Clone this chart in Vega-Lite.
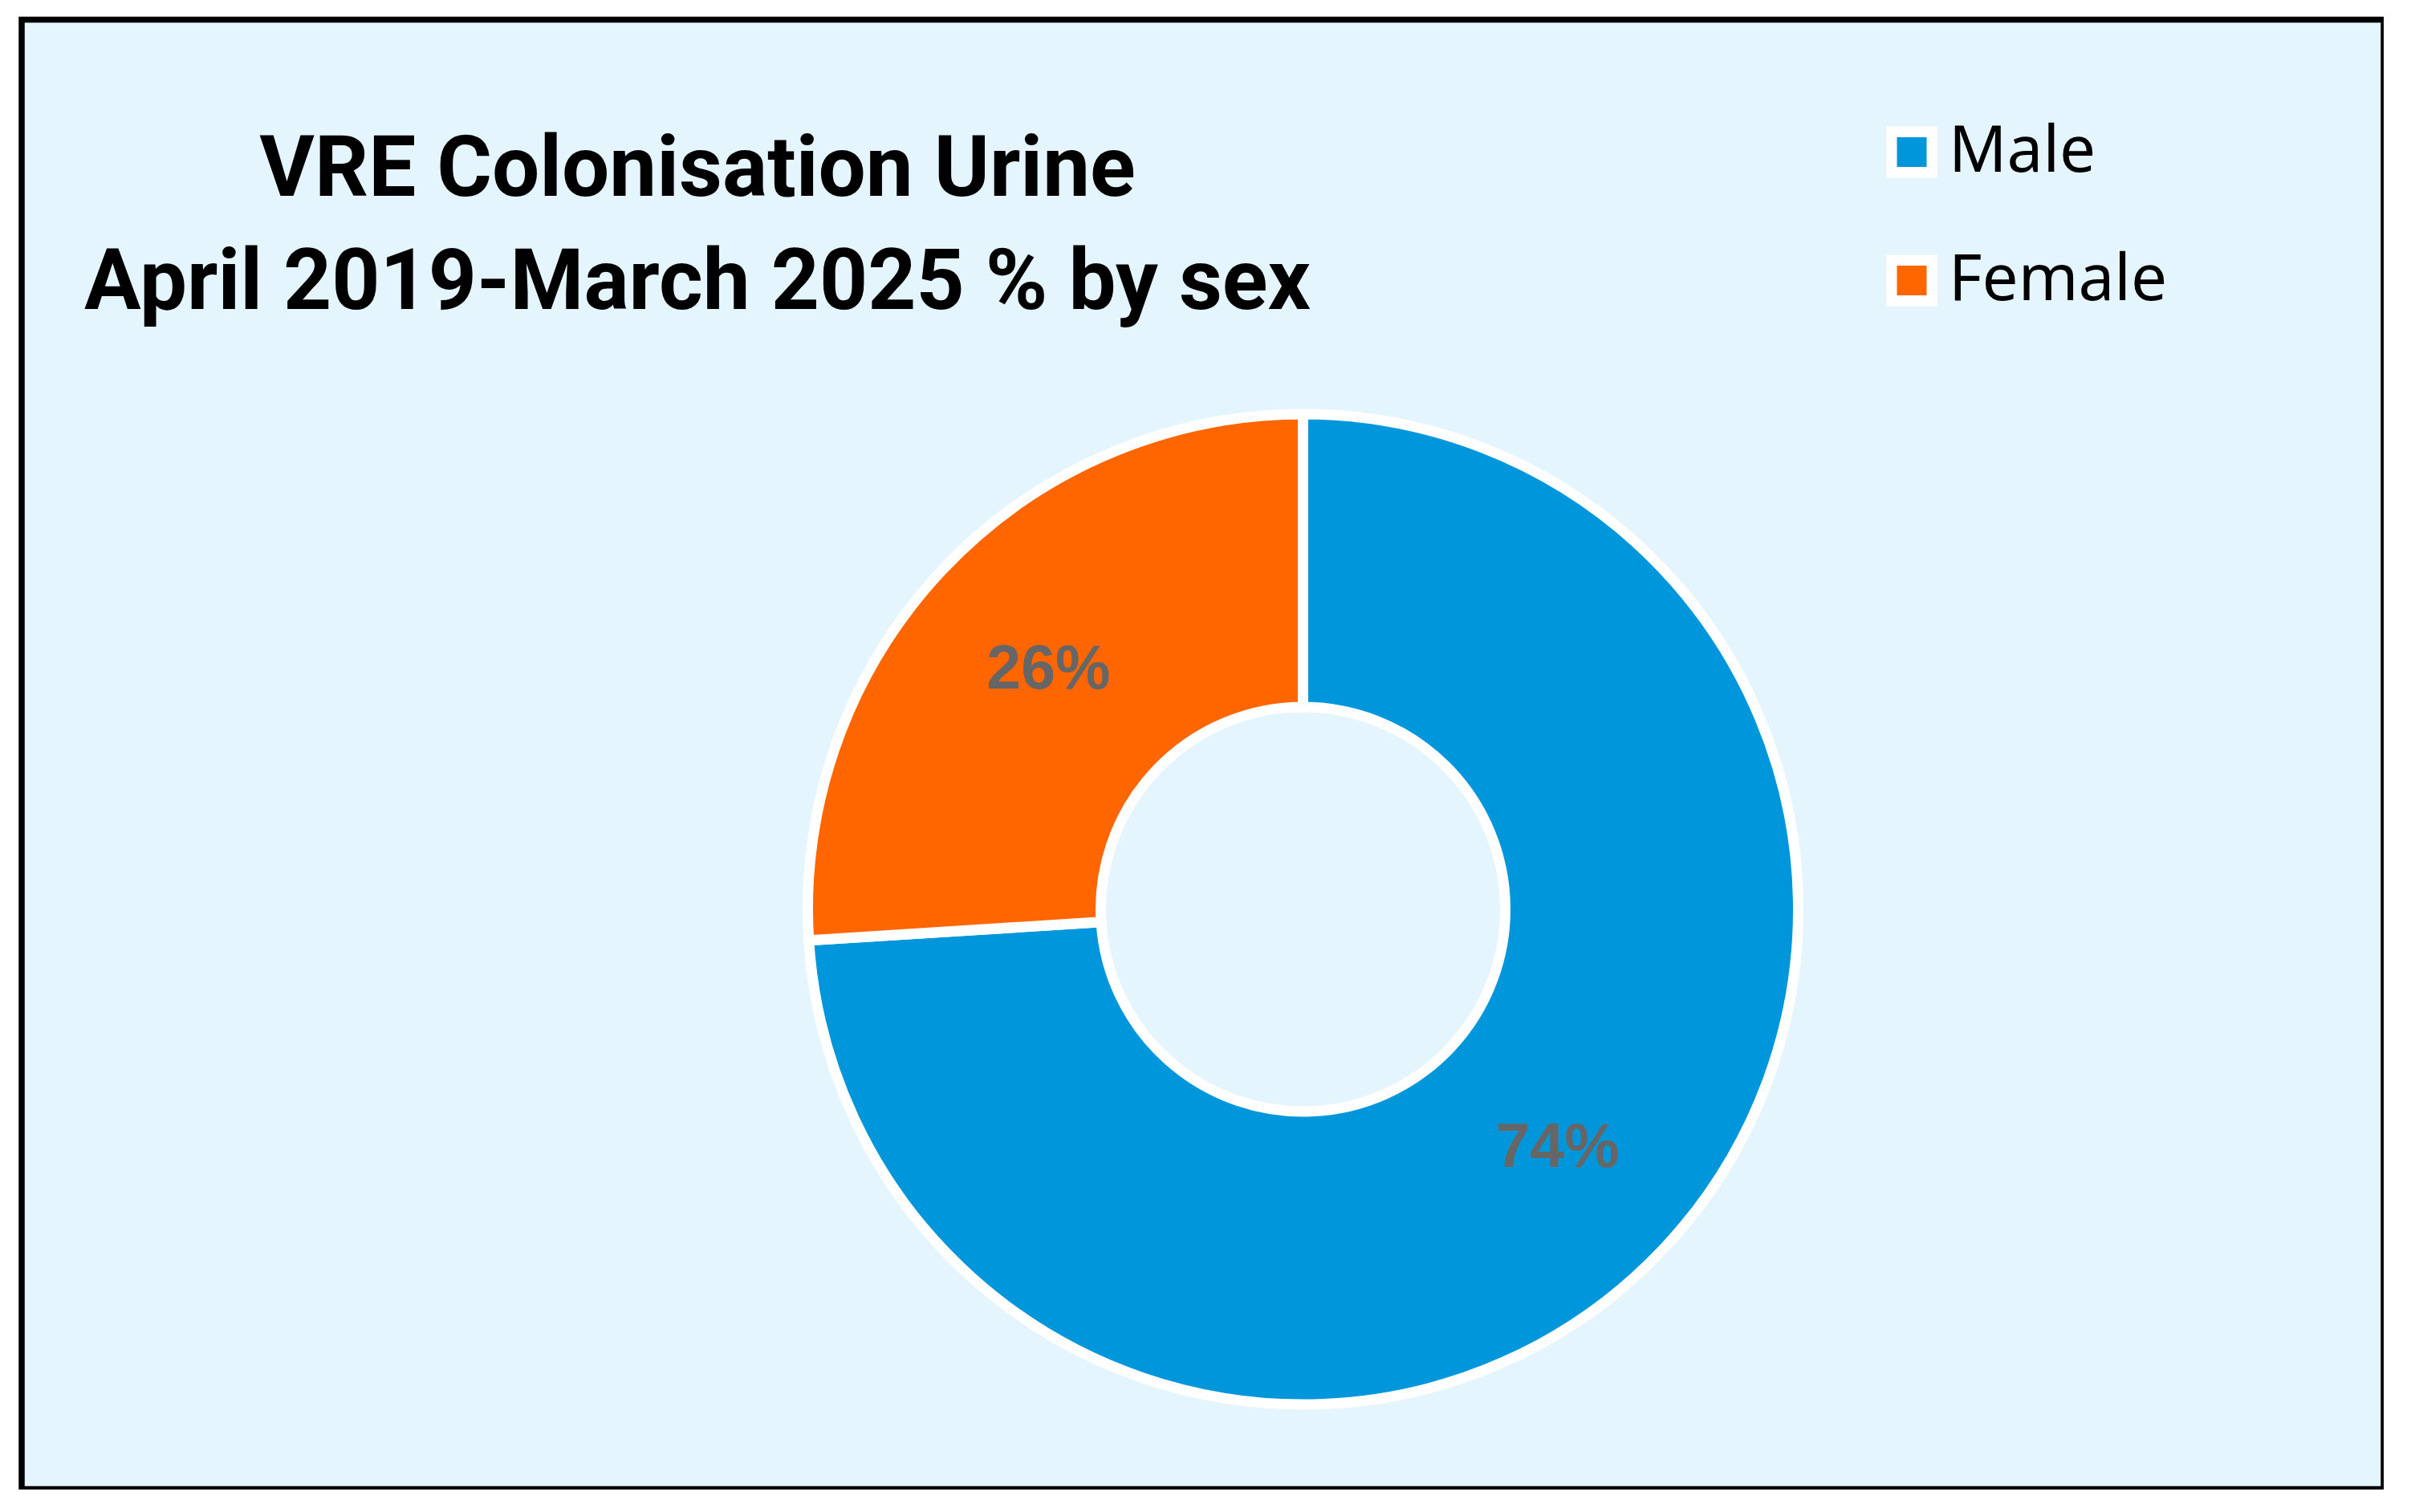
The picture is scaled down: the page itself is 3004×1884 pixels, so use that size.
{
  "$schema": "https://vega.github.io/schema/vega-lite/v6.json",
  "autosize": {"type": "none"},
  "width": 2943,
  "height": 1831,
  "padding": {"left": 27, "top": 24.5, "right": 0, "bottom": 0},
  "background": "#ffffff",
  "view": {"fill": "#E5F5FE", "stroke": "#000000", "strokeWidth": 7.5},
  "config": {"view": {"fill": "#E5F5FE", "stroke": "#000000", "strokeWidth": 7.5}},
  "title": {
    "text": ["VRE Colonisation Urine", "April 2019-March 2025 % by sex"],
    "orient": "top",
    "anchor": "start",
    "align": "center",
    "dx": 842,
    "offset": -382,
    "font": "Roboto",
    "fontSize": 105,
    "fontWeight": "bold",
    "color": "#000000",
    "lineHeight": 141
  },
  "data": {"values": [
    {"sex": "Male", "pct": 0.74},
    {"sex": "Female", "pct": 0.26}
  ]},
  "encoding": {
    "theta": {"field": "pct", "type": "quantitative", "stack": true},
    "order": {"field": "sex", "sort": "descending"},
    "color": {
      "field": "sex",
      "type": "nominal",
      "scale": {"domain": ["Male", "Female"], "range": ["#0096DB", "#FF6600"]},
      "legend": {
        "title": null,
        "orient": "none",
        "legendX": 2315,
        "legendY": 125,
        "padding": 0,
        "symbolType": "square",
        "symbolSize": 2550,
        "symbolStrokeColor": "#ffffff",
        "symbolStrokeWidth": 13.5,
        "symbolOpacity": 1,
        "labelFont": "Noto Sans",
        "labelFontSize": 80,
        "labelColor": "#000000",
        "labelOffset": 6,
        "labelLimit": 600,
        "rowPadding": 54
      }
    }
  },
  "layer": [
    {
      "mark": {
        "type": "arc",
        "outerRadius": 617,
        "innerRadius": 252,
        "stroke": "#ffffff",
        "strokeWidth": 13,
        "opacity": 1,
        "x": {"expr": "width/2 + 125"},
        "y": {"expr": "height/2 + 193"}
      }
    },
    {
      "mark": {
        "type": "text",
        "radius": 435,
        "font": "Liberation Sans",
        "fontWeight": "bold",
        "fontSize": 77,
        "align": "center",
        "baseline": "middle",
        "x": {"expr": "width/2 + 125"},
        "y": {"expr": "height/2 + 193"}
      },
      "encoding": {
        "text": {"field": "pct", "type": "quantitative", "format": ".0%"},
        "color": {"value": "#666666"}
      }
    }
  ]
}
